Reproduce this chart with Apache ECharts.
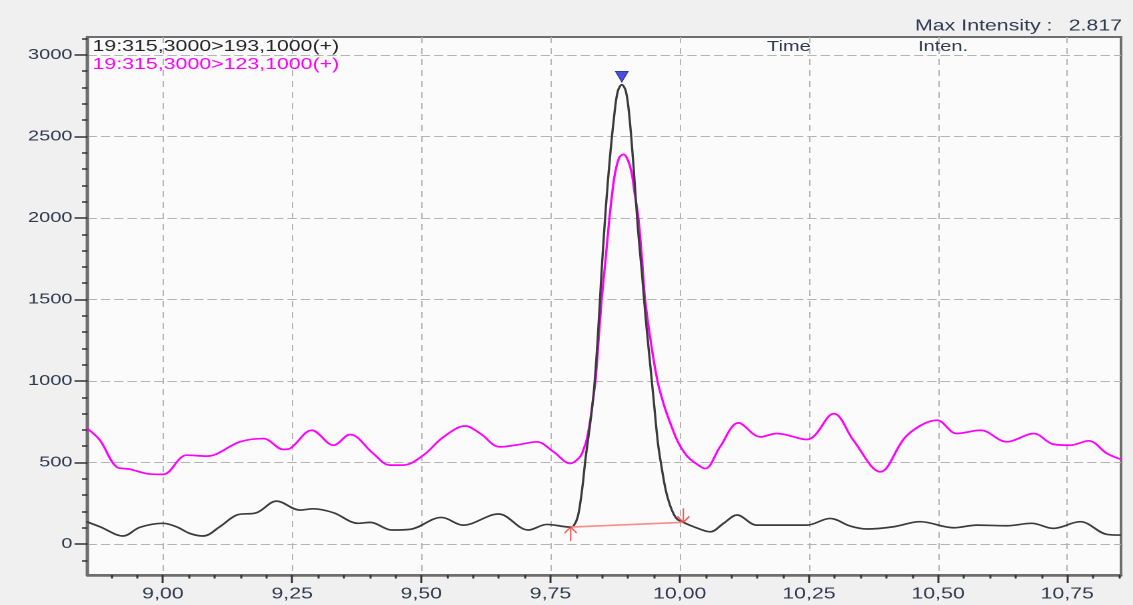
<!DOCTYPE html>
<html>
<head>
<meta charset="utf-8">
<title>MRM chromatogram</title>
<script src="https://cdn.jsdelivr.net/npm/echarts@6/dist/echarts.min.js"></script>
<style>
  html, body { margin: 0; padding: 0; background: #f0f0f0; overflow: hidden; }
  /* The instrument software draws with a wide horizontal aspect; the chart is
     laid out on a narrower canvas and stretched sideways to 1133 px. */
  #chart { width: 850px; height: 605px; transform: scaleX(1.332941); transform-origin: 0 0; }
</style>
</head>
<body>
<div id="chart"></div>
<script>
// Two MRM transitions of compound 19: retention time (min) vs. intensity
const traceNames = ['19:315,3000>193,1000(+)', '19:315,3000>123,1000(+)'];

const time193 = [8.852, 8.878, 8.923, 8.955, 9.000, 9.026, 9.052, 9.078, 9.110, 9.143, 9.181, 9.220,
  9.265, 9.291, 9.330, 9.378, 9.401, 9.443, 9.478, 9.539, 9.581, 9.649, 9.707, 9.743, 9.789, 9.795,
  9.803, 9.811, 9.818, 9.826, 9.834, 9.842, 9.849, 9.857, 9.865, 9.873, 9.880, 9.888, 9.896, 9.903,
  9.911, 9.919, 9.927, 9.934, 9.942, 9.950, 9.958, 9.965, 9.973, 9.981, 9.989, 9.996, 10.007, 10.027,
  10.059, 10.085, 10.111, 10.149, 10.200, 10.246, 10.291, 10.330, 10.362, 10.414, 10.465, 10.530,
  10.575, 10.633, 10.681, 10.723, 10.775, 10.827, 10.854];
const inten193 = [137, 106, 49, 102, 127, 106, 65, 49, 106, 178, 192, 263,
  208, 216, 192, 127, 133, 86, 90, 163, 116, 184, 86, 120, 104, 112,
  170, 330, 530, 720, 940, 1290, 1680, 2060, 2370, 2620, 2775, 2817, 2775, 2610,
  2300, 1940, 1660, 1390, 1130, 870, 615, 470, 330, 240, 180, 150, 133, 106,
  75, 127, 178, 116, 116, 116, 157, 110, 92, 106, 137, 100,
  116, 112, 127, 96, 137, 59, 55];

const time123 = [8.852, 8.878, 8.910, 8.936, 8.975, 9.000, 9.046, 9.085, 9.149, 9.194, 9.233, 9.246,
  9.288, 9.330, 9.362, 9.407, 9.439, 9.465, 9.504, 9.543, 9.585, 9.614, 9.652, 9.691, 9.723, 9.756,
  9.788, 9.807, 9.815, 9.820, 9.827, 9.832, 9.837, 9.843, 9.849, 9.857, 9.864, 9.870, 9.875, 9.883,
  9.891, 9.899, 9.907, 9.912, 9.920, 9.927, 9.933, 9.945, 9.957, 9.966, 9.975, 9.993, 10.001, 10.014,
  10.027, 10.049, 10.078, 10.114, 10.156, 10.188, 10.246, 10.298, 10.336, 10.388, 10.440, 10.498,
  10.536, 10.582, 10.633, 10.685, 10.723, 10.756, 10.791, 10.827, 10.854];
const inten123 = [712, 637, 473, 459, 429, 427, 545, 539, 627, 647, 580, 586,
  698, 606, 672, 555, 484, 484, 545, 657, 724, 678, 596, 611, 627, 565,
  494, 535, 590, 640, 760, 880, 1000, 1250, 1500, 1760, 2000, 2168, 2276, 2370,
  2390, 2360, 2276, 2168, 2000, 1750, 1500, 1220, 1000, 890, 800, 650, 600, 540,
  504, 463, 596, 743, 657, 678, 641, 800, 637, 443, 667, 759,
  678, 698, 627, 678, 612, 606, 633, 555, 519];

// integration baseline of the 193 peak (start, end)
const baselineTime = [9.789, 10.007];
const baselineInten = [104, 133];

// axis ticks
const timeTicks = [9.00, 9.25, 9.50, 9.75, 10.00, 10.25, 10.50, 10.75];
const intenTicks = [0, 500, 1000, 1500, 2000, 2500, 3000];
const timeRange = [8.854, 10.854];
const intenRange = [-190, 3110];

// minor ticks every 0.05 min and every 100 counts
const timeMinor = [];
for (let i = 0; i <= 41; i++) {
  const t = Math.round((8.85 + i * 0.05) * 100) / 100;
  if (t > timeRange[0] && t < timeRange[1] && Math.round(t * 100) % 25 !== 0) timeMinor.push(t);
}
const intenMinor = [];
for (let v = -100; v <= 3100; v += 100) if (v % 500 !== 0) intenMinor.push(v);

const S = 1133 / 850;            // CSS horizontal stretch
const hx = d => d / S;           // horizontal screen px -> layout px
const FONT = '"Liberation Sans", Arial, sans-serif';
const LABEL = '#2f3b50';
const TICK = '#333333';

const zip = (xs, ys) => xs.map((x, i) => [x, ys[i]]);
const apexIdx = inten193.indexOf(Math.max(...inten193));
const apex = [time193[apexIdx], inten193[apexIdx]];
const maxIntensityText = (apex[1] / 1000).toFixed(3);

const chart = echarts.init(document.getElementById('chart'), null, { renderer: 'canvas', devicePixelRatio: 2 });

const minorAxis = (range) => ({
  type: 'value', min: range[0], max: range[1],
  axisLine: { show: false, onZero: false },
  axisLabel: { show: false },
  splitLine: { show: false }
});

chart.setOption({
  animation: false,
  backgroundColor: '#f0f0f0',
  textStyle: { fontFamily: FONT },
  grid: {
    left: hx(87.5), right: hx(12), top: 37, bottom: 30,
    show: true, backgroundColor: '#fbfbfb', borderColor: '#6e6e6e', borderWidth: 2,
    containLabel: false, outerBoundsMode: 'none'
  },
  legend: {
    orient: 'vertical', left: hx(92.5) - 5, top: 38.5, padding: 0,
    icon: 'none', itemWidth: 0, itemHeight: 16, itemGap: 2, selectedMode: false,
    textStyle: { fontFamily: FONT, fontSize: 16 },
    data: [
      { name: traceNames[0], textStyle: { color: '#26262a' } },
      { name: traceNames[1], textStyle: { color: '#ff00ff' } }
    ]
  },
  graphic: [
    { type: 'text', x: hx(915), y: 26, silent: true,
      style: { text: 'Max Intensity :', font: '16px ' + FONT, fill: LABEL, align: 'left', verticalAlign: 'middle', textVerticalAlign: 'middle' } },
    { type: 'text', x: hx(1122), y: 26, silent: true,
      style: { text: maxIntensityText, font: '16px ' + FONT, fill: LABEL, align: 'right', textAlign: 'right', verticalAlign: 'middle', textVerticalAlign: 'middle' } },
    { type: 'text', x: hx(767), y: 47, silent: true,
      style: { text: 'Time', font: '15px ' + FONT, fill: LABEL, align: 'left', verticalAlign: 'middle', textVerticalAlign: 'middle' } },
    { type: 'text', x: hx(918), y: 47, silent: true,
      style: { text: 'Inten.', font: '15px ' + FONT, fill: LABEL, align: 'left', verticalAlign: 'middle', textVerticalAlign: 'middle' } }
  ],
  xAxis: [
    {
      type: 'value', min: timeRange[0], max: timeRange[1], position: 'bottom',
      axisLine: { show: true, onZero: false, lineStyle: { color: '#6e6e6e', width: 2.5 } },
      axisTick: { show: true, customValues: timeTicks, length: 8, lineStyle: { color: TICK, width: 1.5 } },
      axisLabel: {
        show: true, customValues: timeTicks, margin: 11, fontSize: 16, color: LABEL, fontFamily: FONT,
        formatter: v => v.toFixed(2).replace('.', ',')
      },
      splitLine: { show: true, lineStyle: { color: '#b4b4b4', width: 1, type: [6, 5] } }
    },
    Object.assign(minorAxis(timeRange), {
      position: 'bottom',
      axisTick: { show: true, customValues: timeMinor, length: 3.5, lineStyle: { color: TICK, width: 1.5 } }
    })
  ],
  yAxis: [
    {
      type: 'value', min: intenRange[0], max: intenRange[1], position: 'left',
      axisLine: { show: true, onZero: false, lineStyle: { color: '#6e6e6e', width: 2.5 } },
      axisTick: { show: true, customValues: intenTicks, length: hx(13), lineStyle: { color: TICK, width: 1.5 } },
      axisLabel: {
        show: true, customValues: intenTicks, margin: hx(15), fontSize: 15, color: LABEL, fontFamily: FONT,
        formatter: v => String(v)
      },
      splitLine: { show: true, lineStyle: { color: '#b4b4b4', width: 1, type: [7, 3] } }
    },
    Object.assign(minorAxis(intenRange), {
      position: 'left',
      axisTick: { show: true, customValues: intenMinor, length: hx(5.5), lineStyle: { color: TICK, width: 1.5 } }
    })
  ],
  series: [
    {
      name: traceNames[1], type: 'line', data: zip(time123, inten123),
      symbol: 'none', smooth: 0.35, z: 2, silent: true,
      lineStyle: { color: '#ff00ff', width: 1.7 }, itemStyle: { color: '#ff00ff' }
    },
    {
      name: traceNames[0], type: 'line', data: zip(time193, inten193),
      symbol: 'none', smooth: 0.35, z: 3, silent: true,
      lineStyle: { color: '#3c3c3c', width: 1.7 }, itemStyle: { color: '#3c3c3c' }
    },
    {
      name: 'baseline', type: 'line', data: zip(baselineTime, baselineInten),
      symbol: 'none', z: 4, silent: true,
      lineStyle: { color: '#ff8a8a', width: 1.6 }
    },
    {
      name: 'peak start', type: 'scatter', z: 5, silent: true,
      data: [[baselineTime[0], baselineInten[0]]],
      symbol: 'path://M6,0 L6,14 M6,0 L0,6 M6,0 L12,6',
      symbolSize: [hx(12), 14], symbolOffset: [0, 7],
      itemStyle: { color: 'rgba(0,0,0,0)', borderColor: '#ff3030', borderWidth: 1.3 }
    },
    {
      name: 'peak end', type: 'scatter', z: 5, silent: true,
      data: [[baselineTime[1], baselineInten[1]]],
      symbol: 'path://M6,14 L6,0 M6,14 L0,8 M6,14 L12,8',
      symbolSize: [hx(12), 14], symbolOffset: [0, -7],
      itemStyle: { color: 'rgba(0,0,0,0)', borderColor: '#ff3030', borderWidth: 1.3 }
    },
    {
      name: 'apex', type: 'scatter', z: 6, silent: true,
      data: [apex],
      symbol: 'triangle', symbolRotate: 180,
      symbolSize: [hx(13), 11], symbolOffset: [0, -8],
      itemStyle: { color: '#2323d6', borderColor: '#12127a', borderWidth: 0.6 }
    }
  ]
});
</script>
</body>
</html>
